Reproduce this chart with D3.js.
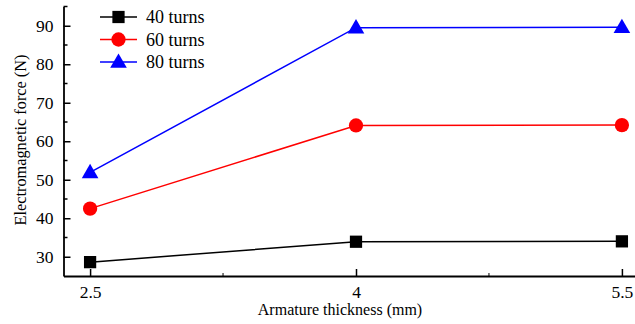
<!DOCTYPE html>
<html>
<head>
<meta charset="utf-8">
<script src="https://cdn.jsdelivr.net/npm/d3@7"></script>
<style>
  html, body { margin: 0; padding: 0; background: #fff; }
  svg { display: block; }
  svg text { font-family: "Liberation Serif", "DejaVu Serif", serif; fill: #000; }
</style>
</head>
<body>
<div id="chart"></div>
<script>
/* ── Data ─────────────────────────────────────────────── */
const thickness = [2.5, 4, 5.5];
const force40 = [28.6, 33.9, 34.0];
const force60 = [42.5, 64.1, 64.2];
const force80 = [51.9, 89.5, 89.6];
const seriesNames = ['40 turns', '60 turns', '80 turns'];
const xTicks = [2.5, 4, 5.5];
const yTicks = [30, 40, 50, 60, 70, 80, 90];

/* ── Layout ───────────────────────────────────────────── */
const W = 635, H = 324;
const FONT = '"Liberation Serif", "DejaVu Serif", serif';
const x = d3.scaleLinear().domain([2.35, 5.65]).range([63.5, 648.5]);
const y = d3.scaleLinear().domain([25, 95]).range([276, 6.5]);

const series = [
  { name: seriesNames[0], values: force40, color: '#000000', shape: d3.symbolSquare, size: 150 },
  { name: seriesNames[1], values: force60, color: '#ff0000', shape: d3.symbolCircle, size: 160 },
  { name: seriesNames[2], values: force80, color: '#0000ff', shape: d3.symbolTriangle, size: 120 }
];

const svg = d3.select('#chart').append('svg')
  .attr('width', W).attr('height', H);

svg.append('rect').attr('width', W).attr('height', H).attr('fill', '#fff');

/* ── Axes ─────────────────────────────────────────────── */
const xAxis = svg.append('g').attr('transform', `translate(0,${y.range()[0]})`)
  .call(d3.axisBottom(x).tickValues(xTicks).tickSizeInner(-7).tickSizeOuter(0)
    .tickFormat(d => String(d)).tickPadding(10));
xAxis.attr('font-family', FONT).attr('font-size', 17.5);
xAxis.select('.domain').attr('stroke-width', 1.8);
xAxis.selectAll('.tick line').attr('stroke-width', 1.5);

// minor x ticks
svg.append('g').selectAll('line').data([3.25, 4.75]).join('line')
  .attr('x1', d => x(d)).attr('x2', d => x(d))
  .attr('y1', y.range()[0]).attr('y2', y.range()[0] - 3)
  .attr('stroke', '#000').attr('stroke-width', 1);

const yAxis = svg.append('g').attr('transform', `translate(${x.range()[0]},0)`)
  .call(d3.axisLeft(y).tickValues(yTicks).tickSizeInner(-7).tickSizeOuter(0).tickPadding(10));
yAxis.attr('font-family', FONT).attr('font-size', 17.5);
yAxis.select('.domain').attr('stroke-width', 1.8);
yAxis.selectAll('.tick line').attr('stroke-width', 1.5);

// minor y ticks
svg.append('g').selectAll('line').data([35, 45, 55, 65, 75, 85, 95]).join('line')
  .attr('x1', x.range()[0]).attr('x2', x.range()[0] + 4)
  .attr('y1', d => y(d)).attr('y2', d => y(d))
  .attr('stroke', '#000').attr('stroke-width', 1.5);

// axis titles
svg.append('text')
  .attr('x', 340).attr('y', 315)
  .attr('text-anchor', 'middle').attr('font-size', 16)
  .text('Armature thickness (mm)');

svg.append('text')
  .attr('transform', `translate(26,${140}) rotate(-90)`)
  .attr('text-anchor', 'middle').attr('font-size', 16.3)
  .text('Electromagnetic force (N)');

/* ── Series ───────────────────────────────────────────── */
const line = d3.line().x(d => x(d[0])).y(d => y(d[1]));

series.forEach(s => {
  const pts = thickness.map((t, i) => [t, s.values[i]]);
  svg.append('path').datum(pts)
    .attr('d', line).attr('fill', 'none')
    .attr('stroke', s.color).attr('stroke-width', 1.5);
  svg.append('g').selectAll('path').data(pts).join('path')
    .attr('transform', d => `translate(${x(d[0])},${y(d[1]) + (s.shape === d3.symbolTriangle ? 1 : 0)})`)
    .attr('d', d3.symbol().type(s.shape).size(s.size))
    .attr('fill', s.color);
});

/* ── Legend ───────────────────────────────────────────── */
const legend = svg.append('g').attr('transform', 'translate(100,17)');
series.forEach((s, i) => {
  const g = legend.append('g').attr('transform', `translate(0,${i * 22.5})`);
  g.append('line').attr('x1', 0).attr('x2', 37).attr('y1', 0).attr('y2', 0)
    .attr('stroke', s.color).attr('stroke-width', 1.5);
  g.append('path')
    .attr('transform', `translate(18.5,${s.shape === d3.symbolTriangle ? 1 : 0})`)
    .attr('d', d3.symbol().type(s.shape).size(s.size))
    .attr('fill', s.color);
  g.append('text').attr('x', 46).attr('y', 6)
    .attr('font-size', 18).text(s.name);
});
</script>
</body>
</html>
